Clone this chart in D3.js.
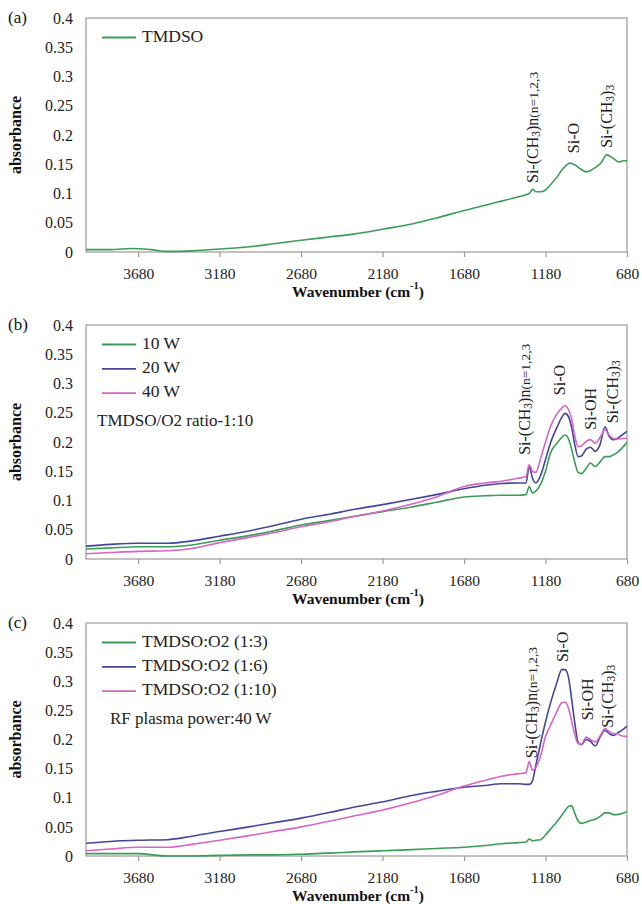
<!DOCTYPE html>
<html>
<head>
<meta charset="utf-8">
<script src="https://cdn.jsdelivr.net/npm/d3@7"></script>
<style>
  html, body { margin: 0; padding: 0; background: #fff; }
  svg { display: block; font-family: "Liberation Serif", "Times New Roman", serif; }
</style>
</head>
<body>
<svg id="chart" width="642" height="904"></svg>
<script>
// Wavenumber axis ticks (cm^-1), reversed axis from 4000 down to 680
const xTicks = [3680, 3180, 2680, 2180, 1680, 1180, 680];
const yTicks = [0, 0.05, 0.1, 0.15, 0.2, 0.25, 0.3, 0.35, 0.4];

// Panel (a): TMDSO monomer spectrum
const wnA = [4000, 3850, 3720, 3600, 3500, 3350, 3180, 3000, 2850, 2680, 2500, 2350, 2180, 2000, 1850,
  1680, 1550, 1450, 1350, 1300, 1280, 1260, 1240, 1210, 1180, 1150, 1110, 1080, 1050, 1030, 1000,
  960, 930, 900, 866, 840, 805, 780, 750, 730, 700, 680];
const tmdso = [0.004, 0.004, 0.006, 0.004, 0.001, 0.002, 0.005, 0.009, 0.014, 0.020, 0.026, 0.031, 0.039, 0.048, 0.058,
  0.071, 0.080, 0.087, 0.094, 0.098, 0.100, 0.107, 0.103, 0.103, 0.106, 0.115, 0.128, 0.140, 0.149, 0.152, 0.149,
  0.141, 0.137, 0.140, 0.146, 0.152, 0.166, 0.163, 0.157, 0.154, 0.156, 0.156];

// Shared wavenumber grid for panels (b) and (c)
const wnBC = [4000, 3850, 3680, 3500, 3350, 3180, 3000, 2850, 2680, 2500, 2350, 2180, 2000, 1850, 1680,
  1550, 1450, 1350, 1300, 1280, 1260, 1240, 1210, 1180, 1150, 1110, 1080, 1060, 1040, 1020, 1000,
  980, 960, 930, 905, 875, 845, 815, 790, 765, 740, 710, 680];

// Panel (b): plasma power series, TMDSO/O2 = 1:10
const power10W = [0.017, 0.019, 0.021, 0.021, 0.024, 0.032, 0.040, 0.048, 0.058, 0.066, 0.073, 0.081, 0.089, 0.097, 0.106,
  0.108, 0.109, 0.109, 0.110, 0.124, 0.113, 0.116, 0.128, 0.150, 0.181, 0.198, 0.208, 0.212, 0.206, 0.188, 0.165,
  0.148, 0.146, 0.155, 0.164, 0.158, 0.166, 0.175, 0.175, 0.178, 0.182, 0.190, 0.199];
const power20W = [0.022, 0.025, 0.027, 0.027, 0.031, 0.039, 0.048, 0.057, 0.068, 0.077, 0.085, 0.093, 0.102, 0.110, 0.120,
  0.126, 0.129, 0.130, 0.130, 0.158, 0.138, 0.130, 0.143, 0.170, 0.198, 0.225, 0.242, 0.249, 0.244, 0.225, 0.195,
  0.175, 0.176, 0.188, 0.191, 0.184, 0.196, 0.226, 0.210, 0.204, 0.206, 0.212, 0.218];
const power40W = [0.009, 0.011, 0.013, 0.014, 0.018, 0.028, 0.037, 0.045, 0.055, 0.064, 0.073, 0.082, 0.094, 0.106, 0.124,
  0.130, 0.133, 0.138, 0.141, 0.161, 0.150, 0.148, 0.172, 0.200, 0.226, 0.248, 0.258, 0.262, 0.256, 0.240, 0.210,
  0.192, 0.193, 0.201, 0.204, 0.198, 0.208, 0.221, 0.212, 0.206, 0.205, 0.206, 0.206];

// Panel (c): TMDSO:O2 ratio series at 40 W
const ratio13 = [0.004, 0.004, 0.004, 0.000, 0.000, 0.001, 0.002, 0.002, 0.003, 0.005, 0.007, 0.009, 0.011, 0.013, 0.015,
  0.018, 0.021, 0.023, 0.024, 0.029, 0.026, 0.027, 0.028, 0.036, 0.046, 0.059, 0.070, 0.078, 0.085, 0.086, 0.073,
  0.060, 0.056, 0.058, 0.061, 0.063, 0.068, 0.074, 0.074, 0.071, 0.071, 0.073, 0.076];
const ratio16 = [0.022, 0.025, 0.027, 0.028, 0.034, 0.042, 0.050, 0.057, 0.065, 0.075, 0.084, 0.093, 0.104, 0.111, 0.118,
  0.121, 0.124, 0.124, 0.123, 0.123, 0.129, 0.155, 0.194, 0.230, 0.262, 0.298, 0.320, 0.320, 0.308, 0.270, 0.228,
  0.195, 0.191, 0.200, 0.197, 0.189, 0.204, 0.216, 0.210, 0.207, 0.211, 0.216, 0.223];
const ratio110 = [0.009, 0.012, 0.015, 0.015, 0.020, 0.027, 0.035, 0.042, 0.050, 0.060, 0.069, 0.079, 0.092, 0.104, 0.120,
  0.130, 0.137, 0.141, 0.143, 0.162, 0.147, 0.152, 0.172, 0.205, 0.224, 0.248, 0.263, 0.264, 0.255, 0.232, 0.208,
  0.193, 0.192, 0.204, 0.200, 0.196, 0.206, 0.219, 0.214, 0.210, 0.210, 0.206, 0.205];

const GREEN = "#3a9d55", BLUE = "#45459c", PINK = "#d665c4";

// Peak assignments: [wavenumber, absorbance at label foot, label parts]
const CH3N = [["Si-(CH", 16], ["3", 11.5, true], [")n", 16], ["(n=1,2,3", 13.5]];
const CH33 = [["Si-(CH", 16], ["3", 11.5, true], [")", 16], ["3", 11.5, true]];
const SIO = [["Si-O", 16]];
const SIOH = [["Si-OH", 16]];

const panels = [
  {
    tag: "(a)", top: 18, bottom: 252, wn: wnA,
    series: [{ name: "TMDSO", values: tmdso, color: GREEN }],
    note: null,
    peaks: [[1257, 0.118, CH3N], [1011, 0.169, SIO], [803, 0.178, CH33]]
  },
  {
    tag: "(b)", top: 325, bottom: 559, wn: wnBC,
    series: [
      { name: "10 W", values: power10W, color: GREEN },
      { name: "20 W", values: power20W, color: BLUE },
      { name: "40 W", values: power40W, color: PINK }
    ],
    note: { text: "TMDSO/O2 ratio-1:10", x: 97 },
    peaks: [[1312, 0.178, CH3N], [1097, 0.280, SIO], [907, 0.221, SIOH], [772, 0.232, CH33]]
  },
  {
    tag: "(c)", top: 623, bottom: 856, wn: wnBC,
    series: [
      { name: "TMDSO:O2 (1:3)", values: ratio13, color: GREEN },
      { name: "TMDSO:O2 (1:6)", values: ratio16, color: BLUE },
      { name: "TMDSO:O2 (1:10)", values: ratio110, color: PINK }
    ],
    note: { text: "RF plasma power:40 W", x: 110 },
    peaks: [[1263, 0.168, CH3N], [1073, 0.333, SIO], [925, 0.233, SIOH], [797, 0.220, CH33]]
  }
];

const svg = d3.select("#chart");
const left = 86, right = 627;
const x = d3.scaleLinear().domain([4000, 680]).range([left, right]);

panels.forEach(p => {
  const y = d3.scaleLinear().domain([0, 0.4]).range([p.bottom, p.top]);
  const g = svg.append("g");

  // plot frame
  g.append("rect")
    .attr("x", left).attr("y", p.top)
    .attr("width", right - left).attr("height", p.bottom - p.top)
    .attr("fill", "none").attr("stroke", "#9a9a9a").attr("stroke-width", 1.2);

  // x axis
  const xa = g.append("g").attr("transform", `translate(0,${p.bottom})`)
    .call(d3.axisBottom(x).tickValues(xTicks).tickSize(5).tickPadding(11).tickFormat(d3.format("d")))
    .attr("font-family", null).attr("font-size", null);
  xa.select(".domain").remove();
  xa.selectAll(".tick line").attr("stroke", "#9a9a9a").attr("stroke-width", 1.2);
  xa.selectAll(".tick text").attr("font-size", 15.5).attr("fill", "#222");

  // y axis
  const ya = g.append("g").attr("transform", `translate(${left},0)`)
    .call(d3.axisLeft(y).tickValues(yTicks).tickSize(0).tickPadding(13)
      .tickFormat(d => d === 0 ? "0" : String(+d.toFixed(2))))
    .attr("font-family", null).attr("font-size", null);
  ya.select(".domain").remove();
  ya.selectAll(".tick text").attr("font-size", 16).attr("fill", "#222");

  // axis titles
  const xt = g.append("text")
    .attr("x", 358).attr("y", p.bottom + 41)
    .attr("text-anchor", "middle").attr("dominant-baseline", "middle")
    .attr("font-size", 15.5).attr("font-weight", "bold").attr("fill", "#111");
  xt.append("tspan").text("Wavenumber (cm");
  xt.append("tspan").text("-1").attr("font-size", 10.5).attr("dy", -6);
  xt.append("tspan").text(")").attr("dy", 6);

  g.append("text")
    .attr("transform", `translate(17,${(p.top + p.bottom) / 2}) rotate(-90)`)
    .attr("text-anchor", "middle").attr("dominant-baseline", "middle")
    .attr("font-size", 16).attr("font-weight", "bold").attr("fill", "#111")
    .text("absorbance");

  // panel tag
  g.append("text")
    .attr("x", 8).attr("y", p.top + 1)
    .attr("dominant-baseline", "middle")
    .attr("font-size", 17).attr("fill", "#111")
    .text(p.tag);

  // spectra
  const line = d3.line()
    .x((d, i) => x(p.wn[i]))
    .y(d => y(d))
    .curve(d3.curveMonotoneX);

  p.series.forEach(s => {
    g.append("path")
      .datum(s.values)
      .attr("d", line)
      .attr("fill", "none")
      .attr("stroke", s.color)
      .attr("stroke-width", 1.6)
      .attr("stroke-linejoin", "round");
  });

  // legend
  p.series.forEach((s, i) => {
    const ly = p.top + 19.5 + i * 24.3;
    g.append("line")
      .attr("x1", 102).attr("x2", 136)
      .attr("y1", ly).attr("y2", ly)
      .attr("stroke", s.color).attr("stroke-width", 1.8);
    g.append("text")
      .attr("x", 142).attr("y", ly)
      .attr("dominant-baseline", "middle")
      .attr("font-size", 17.5).attr("fill", "#222")
      .text(s.name);
  });

  if (p.note) {
    g.append("text")
      .attr("x", p.note.x).attr("y", p.top + 97)
      .attr("dominant-baseline", "middle")
      .attr("font-size", 17).attr("fill", "#222")
      .text(p.note.text);
  }

  // peak assignment labels, written bottom-to-top
  p.peaks.forEach(([wn, val, parts]) => {
    const t = g.append("text")
      .attr("transform", `translate(${x(wn) + 5.5},${y(val)}) rotate(-90)`)
      .attr("fill", "#222");
    parts.forEach(([str, size, sub]) => {
      const ts = t.append("tspan").text(str).attr("font-size", size);
      if (sub) ts.attr("baseline-shift", "-20%");
    });
  });
});
</script>
</body>
</html>
